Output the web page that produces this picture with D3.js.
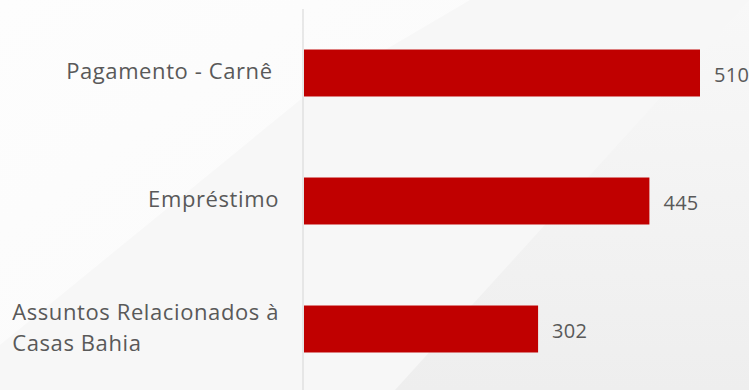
<!DOCTYPE html>
<html>
<head>
<meta charset="utf-8">
<script src="https://cdn.jsdelivr.net/npm/d3@7"></script>
<style>
  html, body { margin: 0; padding: 0; background: #f8f8f8; }
  svg { display: block; }
  text { font-family: "Open Sans", "DejaVu Sans", sans-serif; fill: #595959; white-space: pre; }
</style>
</head>
<body>
<svg id="chart" width="749" height="390"></svg>
<script>
// Data
const categories = ["Pagamento - Carnê ", "Empréstimo", "Assuntos Relacionados à Casas Bahia"];
const values = [510, 445, 302];

const W = 749, H = 390;
const svg = d3.select("#chart");

// Soft diagonal background panels
const defs = svg.append("defs");
const g1 = defs.append("linearGradient").attr("id", "panelR")
  .attr("x1", 0).attr("y1", 0).attr("x2", 0).attr("y2", 1);
g1.append("stop").attr("offset", "0%").attr("stop-color", "#f8f8f8");
g1.append("stop").attr("offset", "100%").attr("stop-color", "#eeeeee");
const g2 = defs.append("linearGradient").attr("id", "panelL")
  .attr("x1", 0).attr("y1", 0).attr("x2", 1).attr("y2", 1);
g2.append("stop").attr("offset", "0%").attr("stop-color", "#fdfdfd");
g2.append("stop").attr("offset", "100%").attr("stop-color", "#fafafa");

svg.append("rect").attr("width", W).attr("height", H).attr("fill", "#f7f7f7");
svg.append("path").attr("d", "M0,0 L470,0 L300,100 L0,345 Z").attr("fill", "url(#panelL)");
svg.append("path").attr("d", "M749,0 L749,390 L395,390 Z").attr("fill", "url(#panelR)");

// Scales
const x = d3.scaleLinear().domain([0, d3.max(values)]).range([303, 700]);
const y = d3.scaleBand().domain(categories).range([9, 393])
  .paddingInner(0.633).paddingOuter(0.3165);

// Category axis line
svg.append("line")
  .attr("x1", x(0)).attr("x2", x(0))
  .attr("y1", 9).attr("y2", H)
  .attr("stroke", "#dadada").attr("stroke-width", 1.2);

// Bars
svg.selectAll("rect.bar").data(values).join("rect")
  .attr("class", "bar")
  .attr("x", x(0) + 1)
  .attr("y", (d, i) => y(categories[i]))
  .attr("width", d => x(d) - x(0) - 1)
  .attr("height", y.bandwidth())
  .attr("fill", "#c00000");

// Value labels
svg.selectAll("text.val").data(values).join("text")
  .attr("class", "val")
  .attr("x", d => x(d) + 14)
  .attr("y", (d, i) => y(categories[i]) + y.bandwidth() / 2 + 1)
  .attr("dominant-baseline", "central")
  .attr("font-size", 20)
  .attr("letter-spacing", 0.3)
  .text(d => d);

// Category labels, wrapped to a maximum width and left-aligned inside a right-aligned block
const labelRight = 279, maxWidth = 275, lineH = 31, fs = 22;
categories.forEach((c, i) => {
  const words = c.split(" ").filter(w => w.length);
  const t = svg.append("text").attr("font-size", fs).attr("letter-spacing", 0.6);
  const lines = [];
  let cur = "";
  const probe = t.append("tspan");
  words.forEach(w => {
    const test = cur ? cur + " " + w : w;
    probe.text(test);
    if (probe.node().getComputedTextLength() > maxWidth && cur) {
      lines.push(cur); cur = w;
    } else cur = test;
  });
  lines.push(cur);
  probe.remove();
  if (c.endsWith(" ")) lines[lines.length - 1] += " ";
  const cy = y(c) + y.bandwidth() / 2 - 3;
  if (lines.length === 1) {
    t.attr("x", labelRight).attr("y", cy).attr("text-anchor", "end")
      .attr("dominant-baseline", "central").text(lines[0]);
  } else {
    const spans = lines.map((l, k) => t.append("tspan").text(l)
      .attr("y", cy + (k - (lines.length - 1) / 2) * lineH)
      .attr("dominant-baseline", "central"));
    const wMax = d3.max(spans, s => s.node().getComputedTextLength());
    spans.forEach(s => s.attr("x", labelRight - wMax));
  }
});
</script>
</body>
</html>
